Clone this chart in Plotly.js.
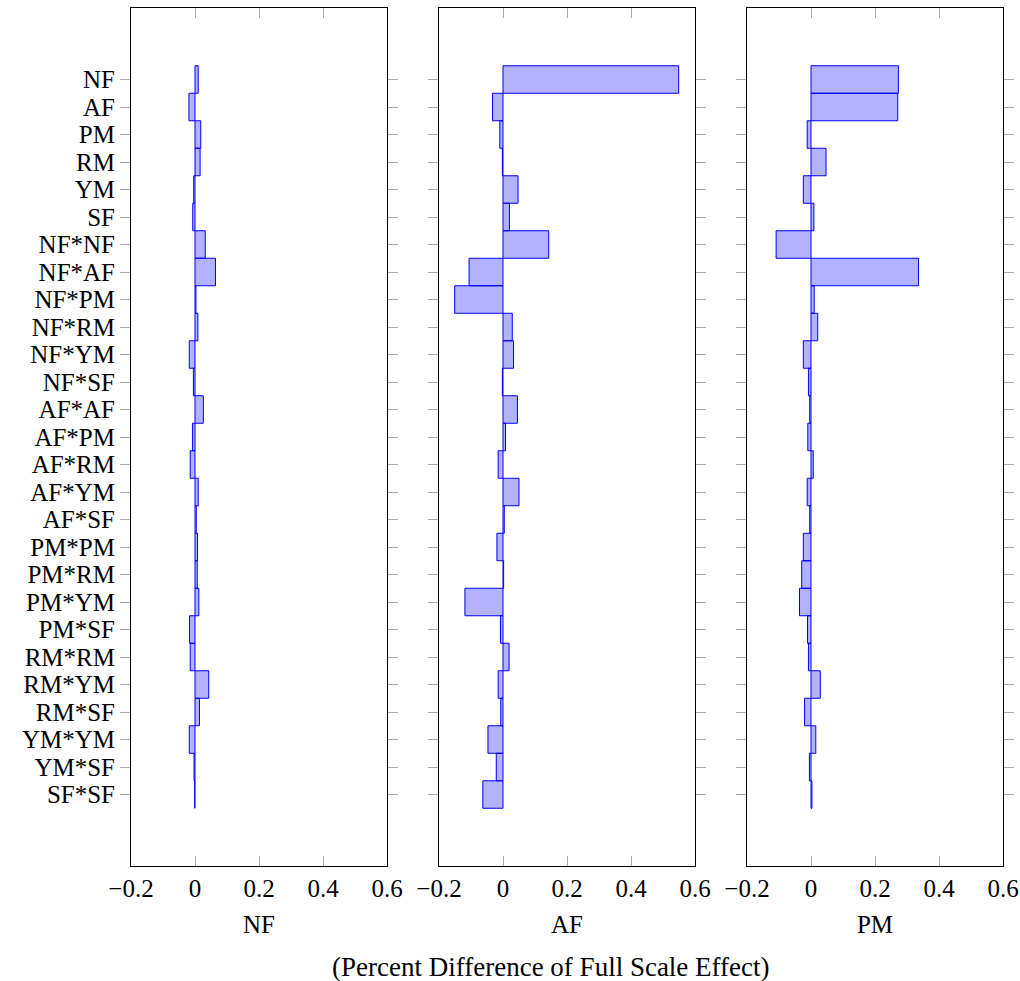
<!DOCTYPE html>
<html>
<head>
<meta charset="utf-8">
<script src="https://cdn.plot.ly/plotly-3.0.1.min.js"></script>
<style>html,body{margin:0;padding:0;background:#fff;}#chart{width:1020px;height:981px;}</style>
</head>
<body>
<div id="chart"></div>
<script>
const categories = ["NF","AF","PM","RM","YM","SF","NF*NF","NF*AF","NF*PM","NF*RM","NF*YM","NF*SF","AF*AF","AF*PM","AF*RM","AF*YM","AF*SF","PM*PM","PM*RM","PM*YM","PM*SF","RM*RM","RM*YM","RM*SF","YM*YM","YM*SF","SF*SF"];
const panelNames = ["NF","AF","PM"];
const valuesNF = [0.010,-0.019,0.018,0.016,-0.004,-0.007,0.032,0.064,0.003,0.009,-0.018,-0.005,0.026,-0.008,-0.015,0.010,0.004,0.008,0.007,0.012,-0.017,-0.015,0.043,0.014,-0.018,-0.003,-0.001];
const valuesAF = [0.549,-0.033,-0.010,-0.002,0.047,0.020,0.143,-0.106,-0.151,0.029,0.033,-0.002,0.045,0.008,-0.015,0.050,0.004,-0.019,0.002,-0.119,-0.008,0.019,-0.015,-0.007,-0.047,-0.021,-0.063];
const valuesPM = [0.273,0.271,-0.012,0.047,-0.024,0.009,-0.109,0.336,0.010,0.021,-0.024,-0.008,-0.004,-0.010,0.007,-0.012,-0.004,-0.024,-0.029,-0.036,-0.011,-0.008,0.029,-0.020,0.015,-0.005,0.003];
const xTicks = [-0.2,0,0.2,0.4,0.6];
const xTitle = "(Percent Difference of Full Scale Effect)";

const FONT = "Liberation Serif, Times New Roman, serif";
const FS = 25;
const series = [valuesNF, valuesAF, valuesPM];
const xDomains = [[131/1020, 387/1020],[439/1020, 695/1020],[747/1020, 1003/1020]];
const yDomain = [115/981, 973/981];

const traces = series.map((vals, i) => ({
  type: "bar",
  orientation: "h",
  x: vals,
  y: categories,
  width: 1,
  xaxis: i === 0 ? "x" : "x" + (i+1),
  yaxis: i === 0 ? "y" : "y" + (i+1),
  marker: {color: "rgba(0,0,255,0.3)", line: {color: "#0000ff", width: 1}},
  hoverinfo: "x+y",
  showlegend: false
}));

const layout = {
  width: 1020, height: 981,
  margin: {l:0, r:0, t:0, b:0},
  paper_bgcolor: "#fff", plot_bgcolor: "#fff",
  font: {family: FONT, size: FS, color: "#000"},
  bargap: 0,
  annotations: [{
    text: xTitle, xref: "paper", yref: "paper",
    x: 551/1020, y: 1 - 967/981, xanchor: "center", yanchor: "middle",
    showarrow: false, font: {family: FONT, size: 27, color: "#000"}
  }]
};

for (let i = 0; i < 3; i++) {
  const xa = i === 0 ? "xaxis" : "xaxis" + (i+1);
  const ya = i === 0 ? "yaxis" : "yaxis" + (i+1);
  layout[xa] = {
    domain: xDomains[i], anchor: i === 0 ? "y" : "y" + (i+1),
    range: [-0.2, 0.6], tickvals: xTicks, ticktext: xTicks.map(v => v < 0 ? "\u2212" + Math.abs(v) : String(v)),
    ticks: "inside", ticklen: 10, tickcolor: "#aaaaaa", tickwidth: 1,
    showline: true, linecolor: "#000", linewidth: 1, mirror: "ticks",
    showgrid: false, zeroline: false, automargin: false,
    tickfont: {family: FONT, size: FS, color: "#000"},
    title: {text: panelNames[i], standoff: 14, font: {family: FONT, size: FS, color: "#000"}}
  };
  layout[ya] = {
    domain: yDomain, anchor: i === 0 ? "x" : "x" + (i+1),
    type: "category", categoryorder: "array", categoryarray: categories,
    tickmode: "array", tickvals: categories, ticktext: categories,
    range: [28.6, -2.6],
    ticks: "outside", ticklen: 10, tickcolor: "#aaaaaa", tickwidth: 1,
    showline: true, linecolor: "#000", linewidth: 1, mirror: "ticks",
    showgrid: false, zeroline: false, automargin: false,
    showticklabels: i === 0,
    tickfont: {family: FONT, size: FS, color: "#000"}
  };
}

Plotly.newPlot("chart", traces, layout, {displayModeBar: false, staticPlot: true});
</script>
</body>
</html>
